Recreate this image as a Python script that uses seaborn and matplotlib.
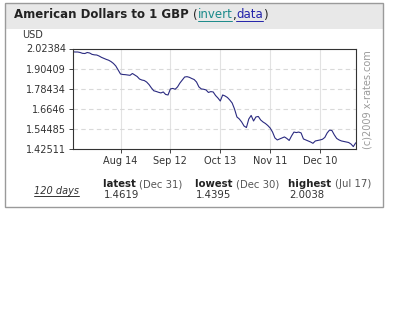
import matplotlib
matplotlib.use("Agg")
import matplotlib.pyplot as plt
import seaborn as sns
import pandas as pd
from matplotlib.patches import Rectangle
from matplotlib.lines import Line2D

# ---- data ----
day_index = list(range(120))
usd_per_gbp = [
    2.0038, 2.003, 2.003, 2.000, 1.995, 1.994, 2.000, 1.997, 1.989, 1.986,
    1.985, 1.979, 1.971, 1.965, 1.959, 1.954, 1.946, 1.935, 1.920, 1.896,
    1.872, 1.869, 1.868, 1.866, 1.864, 1.875, 1.866, 1.857, 1.842, 1.836,
    1.833, 1.824, 1.809, 1.789, 1.772, 1.768, 1.763, 1.759, 1.765, 1.750,
    1.747, 1.783, 1.786, 1.781, 1.795, 1.818, 1.836, 1.854, 1.856, 1.852,
    1.845, 1.839, 1.824, 1.795, 1.783, 1.781, 1.777, 1.762, 1.767, 1.765,
    1.744, 1.729, 1.711, 1.747, 1.741, 1.732, 1.717, 1.699, 1.663, 1.616,
    1.604, 1.586, 1.562, 1.553, 1.604, 1.625, 1.592, 1.616, 1.619, 1.598,
    1.586, 1.577, 1.565, 1.550, 1.526, 1.491, 1.479, 1.485, 1.491, 1.497,
    1.488, 1.476, 1.503, 1.526, 1.523, 1.526, 1.521, 1.485, 1.479, 1.473,
    1.467, 1.459, 1.473, 1.476, 1.479, 1.483, 1.494, 1.521, 1.538, 1.535,
    1.509, 1.488, 1.479, 1.473, 1.470, 1.467, 1.464, 1.455, 1.4395, 1.4619,
]
x_tick_pos = [20, 41, 62, 83, 104]
x_tick_labels = ["Aug 14", "Sep 12", "Oct 13", "Nov 11", "Dec 10"]
y_ticks = [1.42511, 1.54485, 1.6646, 1.78434, 1.90409, 2.02384]
y_tick_labels = ["1.42511", "1.54485", "1.6646", "1.78434", "1.90409", "2.02384"]
stat_names = ["latest", "lowest", "highest"]
stat_dates = ["(Dec 31)", "(Dec 30)", "(Jul 17)"]
stat_values = ["1.4619", "1.4395", "2.0038"]

df = pd.DataFrame({"day": day_index, "rate": usd_per_gbp})

sns.set_theme(style="white")
plt.rcParams['font.family'] = ['DejaVu Sans']

W, H = 394, 336
fig = plt.figure(figsize=(W / 100, H / 100), dpi=100)
fig.patch.set_facecolor("white")

def fx(px):
    return px / W

def fy(py):
    return 1 - py / H

# outer frame and header band
fig.add_artist(Rectangle((fx(5), fy(29)), fx(378), 26 / H, transform=fig.transFigure,
                         facecolor="#e8e8e8", edgecolor="none", zorder=0))
fig.add_artist(Rectangle((fx(5), fy(207)), fx(378), 204 / H, transform=fig.transFigure,
                         facecolor="none", edgecolor="#9a9a9a", linewidth=1.0, zorder=1))

ax = fig.add_axes([fx(73), fy(149), (355.7 - 73) / W, (149 - 48.5) / H])
sns.lineplot(data=df, x="day", y="rate", ax=ax, color="#2a2a80", linewidth=0.8)
ax.set_xlim(0, 119)
ax.set_ylim(y_ticks[0], y_ticks[-1])
ax.set_xticks(x_tick_pos)
ax.set_xticklabels(x_tick_labels, fontsize=7, color="#333333")
ax.set_yticks(y_ticks)
ax.set_yticklabels(y_tick_labels, fontsize=7, color="#333333")
ax.set_xlabel("")
ax.set_ylabel("")
for xp in x_tick_pos:
    ax.axvline(xp, color="#e2e2e2", linewidth=0.8, zorder=0)
for yv in y_ticks[1:-1]:
    ax.axhline(yv, color="#d9d9d9", linewidth=0.8, linestyle=(0, (4, 3)), zorder=0)
ax.tick_params(axis="both", length=3, width=0.7, color="#444444", direction="out", pad=2)
ax.tick_params(axis="x", bottom=True)
ax.tick_params(axis="y", left=True)
for s in ax.spines.values():
    s.set_color("#333333")
    s.set_linewidth(0.8)

fig.text(fx(22), fy(35), "USD", fontsize=7, color="#333333", va="center", ha="left")
fig.text(fx(368), fy(100), "(c)2009 x-rates.com", fontsize=7, color="#9a9a9a",
         rotation=90, va="center", ha="center")

fig.canvas.draw()
renderer = fig.canvas.get_renderer()

def chain(x_px, y_px, parts, size):
    x = x_px
    for txt, kw in parts:
        underline = kw.pop("underline", False)
        t = fig.text(fx(x), fy(y_px), txt, fontsize=size, va="center", ha="left", **kw)
        bb = t.get_window_extent(renderer)
        if underline:
            fig.add_artist(Line2D([bb.x0 / W, bb.x1 / W], [(bb.y0 + 0.5) / H] * 2,
                                  transform=fig.transFigure, color=kw.get("color", "k"),
                                  linewidth=0.7))
        x = bb.x1

chain(14, 15, [("American Dollars to 1 GBP ", dict(fontweight="bold", color="#222222")),
               ("(", dict(color="#222222")),
               ("invert", dict(color="#1a8a8a", underline=True)),
               (",", dict(color="#222222")),
               ("data", dict(color="#2222aa", underline=True)),
               (")", dict(color="#222222"))], 8.5)

chain(34, 191, [("120 days", dict(color="#333333", style="italic", underline=True))], 7)

for xs, name, date, val in zip([103, 195, 288], stat_names, stat_dates, stat_values):
    chain(xs, 184, [(name + " ", dict(fontweight="bold", color="#222222")),
                    (date, dict(color="#555555"))], 7.3)
    fig.text(fx(xs + 1), fy(195), val, fontsize=7.3, color="#333333", va="center", ha="left")

fig.savefig("out.png", dpi=100, facecolor="white")
